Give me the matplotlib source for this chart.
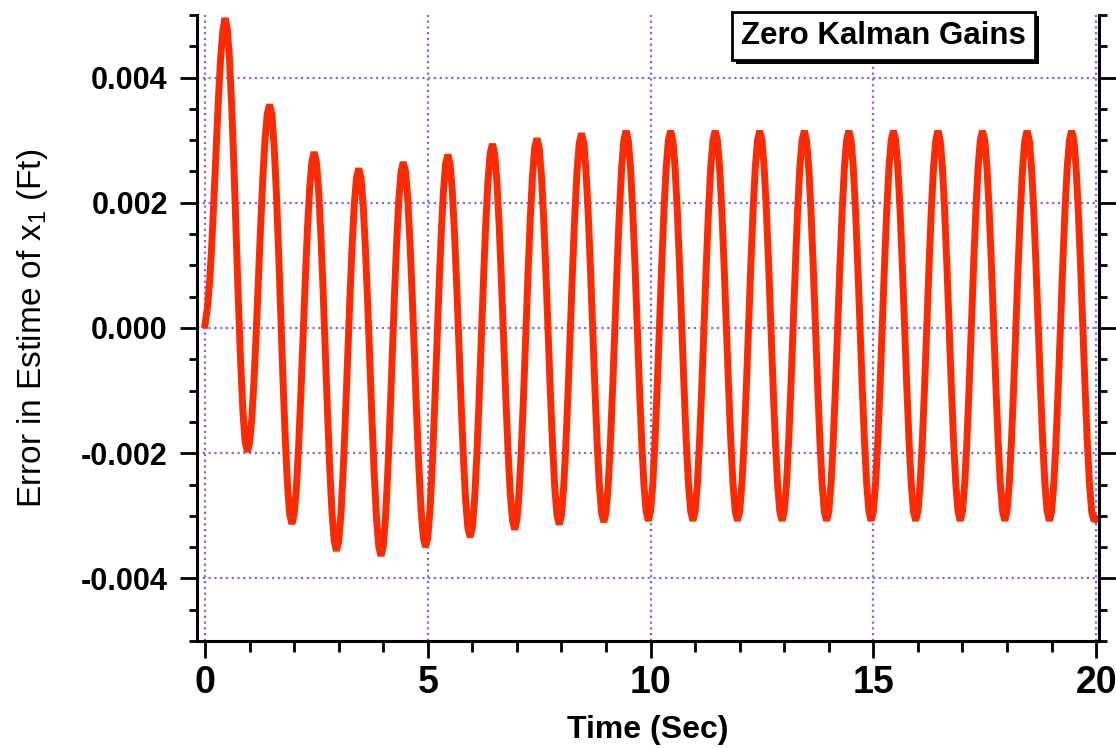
#Error in the estimate of x1 when the Kalman gains are all set to zero
#The error is stored every 0.05 s, in units of 1e-5 ft, one row per second of flight

import numpy as np
import matplotlib.pyplot as plt
from matplotlib.patches import Rectangle
from matplotlib.ticker import MultipleLocator, FormatStrFormatter

dt = 0.05

err_rows = [
    [5, 30, 70, 130, 205, 285, 365, 430, 475, 495, 478, 429, 352, 256, 149, 41, -55, -132, -181, -198],
    [-184, -145, -84, -6, 80, 165, 243, 304, 343, 357, 341, 293, 219, 125, 22, -82, -175, -249, -297, -313],
    [-298, -256, -191, -108, -16, 76, 159, 224, 266, 281, 265, 220, 150, 61, -38, -136, -225, -295, -340, -356],
    [-341, -298, -230, -145, -50, 44, 129, 197, 240, 255, 240, 196, 127, 41, -54, -150, -236, -305, -349, -364],
    [-349, -304, -234, -147, -50, 48, 135, 205, 250, 265, 250, 206, 138, 53, -43, -138, -223, -291, -335, -350],
    [-335, -290, -221, -133, -37, 60, 148, 217, 262, 277, 262, 219, 151, 66, -29, -123, -208, -276, -319, -334],
    [-319, -274, -205, -117, -20, 77, 165, 234, 279, 294, 279, 235, 167, 81, -14, -109, -195, -263, -307, -322],
    [-307, -262, -193, -106, -10, 87, 174, 243, 288, 303, 288, 244, 176, 90, -6, -101, -187, -255, -299, -314],
    [-299, -254, -185, -98, -2, 95, 182, 251, 296, 311, 296, 252, 183, 96, 0, -95, -182, -251, -295, -310],
    [-295, -250, -181, -94, 2, 99, 186, 255, 300, 315, 300, 256, 187, 100, 4, -93, -180, -249, -293, -308],
    [-293, -249, -180, -93, 4, 100, 187, 256, 300, 315, 300, 256, 187, 100, 4, -93, -180, -249, -293, -308],
    [-293, -249, -180, -93, 4, 100, 187, 256, 300, 315, 300, 256, 187, 100, 4, -93, -180, -249, -293, -308],
    [-293, -249, -180, -93, 4, 100, 187, 256, 300, 315, 300, 256, 187, 100, 4, -93, -180, -249, -293, -308],
    [-293, -249, -180, -93, 4, 100, 187, 256, 300, 315, 300, 256, 187, 100, 4, -93, -180, -249, -293, -308],
    [-293, -249, -180, -93, 4, 100, 187, 256, 300, 315, 300, 256, 187, 100, 4, -93, -180, -249, -293, -308],
    [-293, -249, -180, -93, 4, 100, 187, 256, 300, 315, 300, 256, 187, 100, 4, -93, -180, -249, -293, -308],
    [-293, -249, -180, -93, 4, 100, 187, 256, 300, 315, 300, 256, 187, 100, 4, -93, -180, -249, -293, -308],
    [-293, -249, -180, -93, 4, 100, 187, 256, 300, 315, 300, 256, 187, 100, 4, -93, -180, -249, -293, -308],
    [-293, -249, -180, -93, 4, 100, 187, 256, 300, 315, 300, 256, 187, 100, 4, -93, -180, -249, -293, -308],
    [-293, -249, -180, -93, 4, 100, 187, 256, 300, 315, 300, 256, 187, 100, 4, -93, -180, -249, -293, -308],
]
err_last = [-305]

x_ticks = [0, 5, 10, 15, 20]
y_ticks = [-0.004, -0.002, 0.000, 0.002, 0.004]

#Put all the rows together and turn them back into feet
err = np.array([v for row in err_rows for v in row] + err_last) * 1e-5
t = np.arange(len(err)) * dt

plt.rcParams['font.family'] = ['Liberation Sans', 'DejaVu Sans']

fig = plt.figure(figsize=(11.16, 7.48), dpi=100)
ax = fig.add_axes([0.1765, 0.143, 0.8085, 0.837])

ax.plot(t, err, color='#ff2a00', linewidth=5, solid_joinstyle='bevel')

ax.set_xlim(-0.18, 20.07)
ax.set_ylim(-0.005, 0.005)

#Major and minor ticks on both axes
ax.xaxis.set_major_locator(plt.FixedLocator(x_ticks))
ax.xaxis.set_minor_locator(MultipleLocator(1))
ax.yaxis.set_major_locator(plt.FixedLocator(y_ticks))
ax.yaxis.set_minor_locator(MultipleLocator(0.0005))
ax.yaxis.set_major_formatter(FormatStrFormatter('%.3f'))

#Blue dotted grid on the major ticks
ax.grid(True, which='major', color='#6b6bff', linestyle=(0, (1, 1.6)), linewidth=1.6)

ax.spines['top'].set_visible(False)
for side in ['left', 'right', 'bottom']:
    ax.spines[side].set_linewidth(2.2)

ax.tick_params(axis='y', which='both', left=True, right=True, direction='out', width=2)
ax.tick_params(axis='y', which='major', length=12, pad=9, labelsize=22)
ax.tick_params(axis='y', which='minor', length=6)
ax.tick_params(axis='x', which='both', bottom=True, top=False, direction='out', width=2)
ax.tick_params(axis='x', which='major', length=12, pad=5, labelsize=27)
ax.tick_params(axis='x', which='minor', length=8)
for lab in ax.get_xticklabels() + ax.get_yticklabels():
    lab.set_fontweight('bold')

ax.set_xlabel('Time (Sec)', fontsize=23, fontweight='bold', labelpad=10)
ax.set_ylabel('Error in Estime of x$_\\mathregular{1}$ (Ft)', fontsize=24, labelpad=22)

#Title in a white box with a black drop shadow
title = fig.text(0.7915, 0.952, 'Zero Kalman Gains', fontsize=22.5, fontweight='bold',
                 ha='center', va='center', color='black', zorder=5,
                 bbox=dict(boxstyle='square,pad=0.28', facecolor='white', edgecolor='black', linewidth=2))
fig.canvas.draw()
bb = title.get_bbox_patch().get_window_extent()
fig.patches.append(Rectangle((bb.x0 + 4, bb.y0 - 4), bb.width, bb.height, transform=None,
                             facecolor='black', edgecolor='none', zorder=4))

plt.savefig('out.png', dpi=100)
